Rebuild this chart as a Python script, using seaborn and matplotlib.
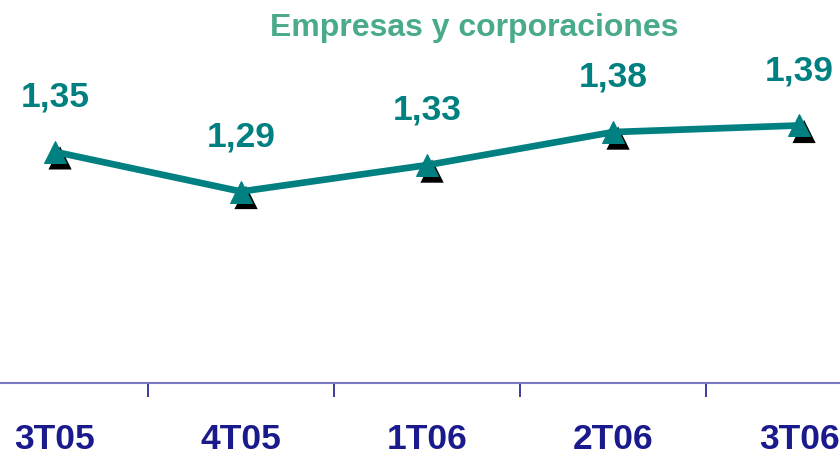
import matplotlib
matplotlib.use("Agg")
import matplotlib.pyplot as plt
import matplotlib.transforms as mtransforms
import seaborn as sns
import pandas as pd

# datos
TRIMESTRES = ["3T05", "4T05", "1T06", "2T06", "3T06"]
VALORES = [1.35, 1.29, 1.33, 1.38, 1.39]
ETIQUETAS = ["1,35", "1,29", "1,33", "1,38", "1,39"]
TITULO = "Empresas y corporaciones"

TEAL = "#008080"
NAVY = "#1a1a8c"

sns.set_theme(style="white")
plt.rcParams['font.family'] = ['Liberation Sans', 'DejaVu Sans']

df = pd.DataFrame({'pos': range(len(TRIMESTRES)), 'valor': VALORES})

fig = plt.figure(figsize=(8.4, 4.54), dpi=100)
ax = fig.add_axes([0, (454 - 383) / 454, 1, 383 / 454])

# sombra de los marcadores
sombra = mtransforms.offset_copy(ax.transData, fig=fig, x=5, y=-6, units='dots')
sns.scatterplot(data=df, x='pos', y='valor', marker='^', s=280, color='black',
                edgecolor='none', ax=ax, transform=sombra, zorder=2)

sns.lineplot(data=df, x='pos', y='valor', color=TEAL, linewidth=4.8,
             marker='^', markersize=16.5, markeredgecolor=TEAL, ax=ax, zorder=3)

for i, (v, t) in enumerate(zip(VALORES, ETIQUETAS)):
    ax.annotate(t, (i, v), xytext=(0, 32.5), textcoords='offset points',
                ha='center', va='baseline', fontsize=25.5, fontweight='bold', color=TEAL)

ax.set_xlim(-0.296, 4.22)
ax.set_ylim(1.0, 1.58)

for s in ['top', 'right', 'left']:
    ax.spines[s].set_visible(False)
ax.spines['bottom'].set_color('#7a7ac4')
ax.spines['bottom'].set_linewidth(1.5)

ax.set_xticks([0.5, 1.5, 2.5, 3.5])
ax.set_xticklabels([])
ax.tick_params(axis='x', direction='out', length=10, width=1.2, color=NAVY, bottom=True)
ax.set_yticks([])
ax.set_xlabel('')
ax.set_ylabel('')

for i, t in enumerate(TRIMESTRES):
    ax.text(i, -0.172, t, transform=ax.get_xaxis_transform(), ha='center', va='baseline',
            fontsize=25.5, fontweight='bold', color=NAVY)

fig.text(474 / 840, 1 - 28 / 454, TITULO, ha='center', va='center',
         fontsize=23, fontweight='bold', color='#4aaa8c')

fig.savefig('out.png', dpi=100)
